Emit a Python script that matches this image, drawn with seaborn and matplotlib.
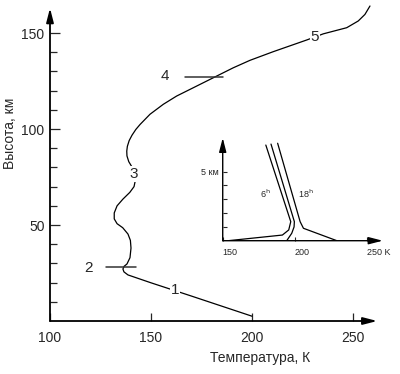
"""
Профиль температуры атмосферы: основная кривая и врезка
с суточным ходом у поверхности (6h и 18h).
"""

import matplotlib
matplotlib.use("Agg")
import matplotlib.pyplot as plt
import seaborn as sns
import pandas as pd

# =========================
# Данные основной кривой (T, K; высота, км)
# =========================

profile_temp = [200.0, 170.0, 150.0, 138.6, 136.6, 136.1, 136.7, 138.1, 139.6, 140.1,
                139.8, 138.6, 136.0, 133.2, 131.8, 131.8, 133.2, 136.1, 139.5, 141.6,
                142.1, 141.6, 140.6, 139.0, 138.1, 138.0, 138.3, 139.2, 140.6, 142.5,
                144.6, 149.5, 156.1, 162.7, 170.9, 180.8, 190.7, 199.0, 210.5, 227.1,
                235.3, 246.9, 252.6, 255.9, 258.4]
profile_alt = [2.5, 13.0, 19.9, 24.0, 25.6, 27.1, 28.5, 29.7, 33.0, 38.0,
               42.0, 45.3, 48.6, 50.7, 53.2, 56.3, 60.0, 63.5, 67.0, 70.0,
               72.5, 76.6, 80.2, 83.0, 86.0, 88.5, 91.0, 94.0, 96.8, 99.8,
               102.4, 107.7, 112.9, 117.2, 121.5, 126.7, 131.9, 135.8, 140.3, 146.4,
               149.6, 152.8, 156.3, 159.7, 164.1]

# номера участков кривой
region_labels = ["1", "2", "3", "4", "5"]
region_temp = [162.0, 119.3, 141.6, 157.0, 231.2]
region_alt = [15.9, 27.8, 76.6, 127.6, 148.2]

# выносные черточки для меток 2 и 4
leader_temp = [[127.7, 142.6], [166.8, 185.6]]
leader_alt = [[28.0, 28.0], [127.0, 127.0]]

main_xticks = [100, 150, 200, 250]
main_yticks = [50, 100, 150]
main_yminor = [10, 20, 30, 40, 60, 70, 80, 90, 110, 120, 130, 140]

# =========================
# Данные врезки (приземный слой)
# =========================

inset_temp_6h = [153.7, 191.4, 195.8, 197.2, 179.9]
inset_alt_6h = [0.0, 0.41, 0.78, 1.38, 6.93]

inset_temp_mid = [194.4, 197.9, 199.5, 199.7, 183.5]
inset_alt_mid = [0.0, 0.54, 1.0, 1.38, 7.0]

inset_temp_18h = [229.2, 206.0, 203.7, 188.1]
inset_alt_18h = [0.0, 0.9, 1.38, 7.06]

inset_xticks = [150, 200, 250]
inset_xticklabels = ["150", "200", "250 K"]
inset_yticks = [1, 2, 3, 4, 5]


def draw_arrow_axes(ax, x0, y0, x1, y1, lw):
    """Рисует оси в виде стрелок вместо рамки."""
    style = "-|>,head_length=0.7,head_width=0.18"
    ax.annotate("", xy=(x0, y1), xytext=(x0, y0), annotation_clip=False,
                arrowprops=dict(arrowstyle=style, lw=lw, color="black",
                                shrinkA=0, shrinkB=0))
    ax.annotate("", xy=(x1, y0), xytext=(x0, y0), annotation_clip=False,
                arrowprops=dict(arrowstyle=style, lw=lw, color="black",
                                shrinkA=0, shrinkB=0))


def main():
    sns.set_theme(style="white")
    plt.rcParams["font.family"] = ["Liberation Sans", "DejaVu Sans"]

    fig = plt.figure(figsize=(4.0, 3.74), dpi=100)

    # =========================
    # Основной график
    # =========================
    ax = fig.add_axes([0.125, 0.1417, 0.8181, 0.852])
    ax.set_xlim(100, 262)
    ax.set_ylim(0, 166)
    for side in ax.spines:
        ax.spines[side].set_visible(False)

    df = pd.DataFrame({"temp": profile_temp, "alt": profile_alt})
    sns.lineplot(data=df, x="temp", y="alt", sort=False, estimator=None,
                 color="black", lw=0.9, ax=ax)

    for xs, ys in zip(leader_temp, leader_alt):
        ax.plot(xs, ys, color="#333333", lw=1.1)

    for lab, xt, yt in zip(region_labels, region_temp, region_alt):
        ax.text(xt, yt, lab, ha="center", va="center", fontsize=11,
                bbox=dict(facecolor="white", edgecolor="none", pad=0.5))

    draw_arrow_axes(ax, 100, 0, 262, 163, 1.3)

    ax.set_xticks(main_xticks)
    ax.set_xticklabels([str(t) for t in main_xticks])
    ax.set_yticks(main_yticks)
    ax.set_yticks(main_yminor, minor=True)
    ax.tick_params(axis="x", direction="in", length=6, width=0.9, pad=7,
                   labelsize=10, bottom=True)
    ax.tick_params(axis="y", which="major", direction="in", length=7, width=0.9,
                   pad=4, labelsize=10, left=True)
    ax.tick_params(axis="y", which="minor", direction="in", length=5, width=0.9,
                   left=True)

    ax.set_xlabel("Температура, К", fontsize=10)
    ax.set_ylabel("Высота, км", fontsize=10)
    ax.xaxis.set_label_coords(0.642, -0.095)
    ax.yaxis.set_label_coords(-0.1, 0.59)

    # =========================
    # Врезка
    # =========================
    ins = fig.add_axes([0.5568, 0.3564, 0.40, 0.2805])
    ins.set_xlim(150, 261)
    ins.set_ylim(0, 7.6)
    ins.patch.set_alpha(0)
    for side in ins.spines:
        ins.spines[side].set_visible(False)

    for xs, ys in [(inset_temp_6h, inset_alt_6h),
                   (inset_temp_mid, inset_alt_mid),
                   (inset_temp_18h, inset_alt_18h)]:
        d = pd.DataFrame({"temp": xs, "alt": ys})
        sns.lineplot(data=d, x="temp", y="alt", sort=False, estimator=None,
                     color="black", lw=0.9, ax=ins)

    ins.text(179.6, 3.4, r"6$^{\mathrm{h}}$", fontsize=6.5, ha="center", va="center")
    ins.text(208.0, 3.4, r"18$^{\mathrm{h}}$", fontsize=6.5, ha="center", va="center")

    draw_arrow_axes(ins, 150, 0, 261, 7.45, 1.0)

    ins.set_xticks(inset_xticks)
    ins.set_xticklabels(inset_xticklabels, ha="left")
    ins.set_yticks(inset_yticks)
    ins.set_yticklabels(["", "", "", "", "5 км"])
    ins.tick_params(axis="x", direction="in", length=3, width=0.8, pad=5,
                    labelsize=6.5, bottom=True)
    ins.tick_params(axis="y", direction="in", length=3, width=0.8, pad=3,
                    labelsize=6.5, left=True)
    ins.set_xlabel("")
    ins.set_ylabel("")

    fig.savefig("out.png", dpi=100)
    plt.close(fig)


if __name__ == "__main__":
    main()
